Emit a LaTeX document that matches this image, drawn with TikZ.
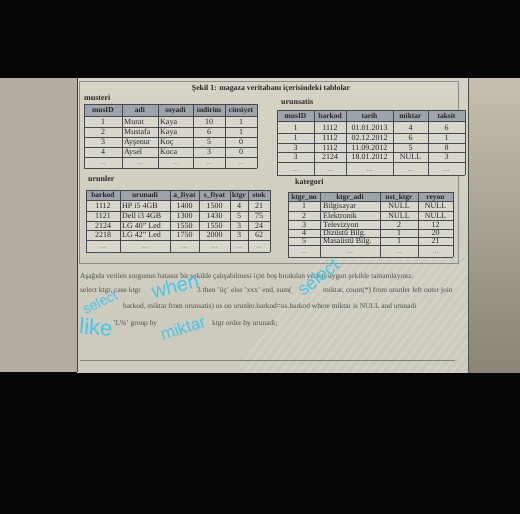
\documentclass[tikz,border=0pt]{standalone}
\usepackage{fontspec}
\setmainfont{Liberation Serif}
\newfontfamily\handfont{Liberation Sans}
\definecolor{bezL}{HTML}{B3ADA1}
\definecolor{pageT}{HTML}{D6D3C5}
\definecolor{pageB}{HTML}{CBCABC}
\definecolor{bezRT}{HTML}{C6BFAD}
\definecolor{bezRB}{HTML}{8A8477}
\definecolor{hdrc}{HTML}{9DA4AC}
\definecolor{cellc}{HTML}{D9D7CC}
\definecolor{gridc}{HTML}{45484C}
\definecolor{txtc}{HTML}{262626}
\definecolor{paratxt}{HTML}{4E4E4A}
\definecolor{handc}{HTML}{44C6EE}
\tikzset{
  cellfont/.style={font=\fontsize{8}{9}\selectfont, text=txtc, inner sep=0pt, text height=5.5pt, text depth=0pt},
  cc/.style={cellfont, anchor=center},
  cl/.style={cellfont, anchor=west},
  hd/.style={cellfont, anchor=center, font=\fontsize{7.5}{9}\selectfont\bfseries},
  tlabel/.style={anchor=west, inner sep=0pt, font=\fontsize{8}{9}\selectfont\bfseries, text=txtc},
  gridln/.style={draw=gridc, line width=0.7pt},
  hdrfill/.style={fill=hdrc},
  cellfill/.style={fill=cellc},
  para/.style={anchor=base west, inner sep=0pt, font=\fontsize{7.4}{9}\selectfont, text=paratxt},
  hand/.style={inner sep=0pt, font=\handfont, text=handc},
}
\newcommand\mrow[7]{%
  \node[cc] (#2-1) at (103,#1) {#3};
  \node[cl] (#2-2) at (124,#1) {#4};
  \node[cl] (#2-3) at (160,#1) {#5};
  \node[cc] (#2-4) at (209,#1) {#6};
  \node[cc] (#2-5) at (241,#1) {#7};}
\newcommand\srow[7]{%
  \node[cc] (#2-1) at (295.5,#1) {#3};
  \node[cc] (#2-2) at (330,#1) {#4};
  \node[cc] (#2-3) at (369.5,#1) {#5};
  \node[cc] (#2-4) at (410.5,#1) {#6};
  \node[cc] (#2-5) at (446.5,#1) {#7};}
\newcommand\urow[8]{%
  \node[cc] (#2-1) at (103,#1) {#3};
  \node[cl] (#2-2) at (122,#1) {#4};
  \node[cc] (#2-3) at (184.5,#1) {#5};
  \node[cc] (#2-4) at (214.5,#1) {#6};
  \node[cc] (#2-5) at (239,#1) {#7};
  \node[cc] (#2-6) at (259,#1) {#8};}
\newcommand\krow[6]{%
  \node[cc] (#2-1) at (304,#1) {#3};
  \node[cl] (#2-2) at (323,#1) {#4};
  \node[cc] (#2-3) at (399,#1) {#5};
  \node[cc] (#2-4) at (435.5,#1) {#6};}
\begin{document}
\begin{tikzpicture}[x=1pt,y=-1pt]
\useasboundingbox (0,0) rectangle (520,514);
% photo background
\fill[black!98] (0,0) rectangle (520,514);
\fill[bezL] (0,78) rectangle (77,372);
\shade[top color=pageT, bottom color=pageB] (77,78) rectangle (468,372);
\shade[top color=bezRT, bottom color=bezRB] (468,78) rectangle (520,372);
\begin{scope}
  \clip (240,255) rectangle (468,372);
  \foreach \k in {0,9,...,300}
    \draw[white, opacity=0.13, line width=2.5pt] (230+\k,380) -- (330+\k,250);
\end{scope}
\draw[black!75, line width=0.9pt] (77,78) -- (77,372);
\draw[black!70, line width=0.9pt] (468,78) -- (468,372);
% figure frame and bottom rule
\draw[black!45, line width=0.5pt] (79,81) rectangle (458,263);
\draw[black!50, line width=0.5pt] (80,360) -- (455,360);
% title
\node[inner sep=0pt, font=\fontsize{7.8}{9}\selectfont\bfseries, text=txtc] (title) at (271,89) {Şekil 1: magaza veritabanı içerisindeki tablolar};
% ---------------- musteri
\node[tlabel] (lmusteri) at (84,98) {musteri};
\fill[hdrfill] (84,104) rectangle (257,116);
\fill[cellfill] (84,116) rectangle (257,168);
\foreach \x in {84,122,158,193,225,257} \draw[gridln] (\x,104) -- (\x,168);
\foreach \y in {104,116,127,137,147,157,168} \draw[gridln] (84,\y) -- (257,\y);
\node[hd] (mh1) at (103,110) {musID};
\node[hd] (mh2) at (140,110) {adi};
\node[hd] (mh3) at (175.5,110) {soyadi};
\node[hd] (mh4) at (209,110) {indirim};
\node[hd] (mh5) at (241,110) {cinsiyet};
\mrow{121.5}{m1}{1}{Murat}{Kaya}{10}{1}
\mrow{132}{m2}{2}{Mustafa}{Kaya}{6}{1}
\mrow{142}{m3}{3}{Ayşenur}{Koç}{5}{0}
\mrow{152}{m4}{4}{Aysel}{Koca}{3}{0}
\node[cc,text=txtc!60] (m5-1) at (103,162) {...};
\node[cc,text=txtc!60] (m5-2) at (140,162) {...};
\node[cc,text=txtc!60] (m5-3) at (175.5,162) {...};
\node[cc,text=txtc!60] (m5-4) at (209,162) {...};
\node[cc,text=txtc!60] (m5-5) at (241,162) {...};
% ---------------- urunsatis
\node[tlabel] (lsatis) at (281,102) {urunsatis};
\fill[hdrfill] (277,110) rectangle (465,121);
\fill[cellfill] (277,121) rectangle (465,175);
\foreach \x in {277,314,346,393,428,465} \draw[gridln] (\x,110) -- (\x,175);
\foreach \y in {110,121,133,143,152,162,175} \draw[gridln] (277,\y) -- (465,\y);
\node[hd] (sh1) at (295.5,115.5) {musID};
\node[hd] (sh2) at (330,115.5) {barkod};
\node[hd] (sh3) at (369.5,115.5) {tarih};
\node[hd] (sh4) at (410.5,115.5) {miktar};
\node[hd] (sh5) at (446.5,115.5) {taksit};
\srow{127.5}{s1}{1}{1112}{01.01.2013}{4}{6}
\srow{138}{s2}{1}{1112}{02.12.2012}{6}{1}
\srow{147.5}{s3}{3}{1112}{11.09.2012}{5}{8}
\srow{157}{s4}{3}{2124}{18.01.2012}{NULL}{3}
\node[cc,text=txtc!60] (s5-1) at (295.5,168.5) {...};
\node[cc,text=txtc!60] (s5-2) at (330,168.5) {...};
\node[cc,text=txtc!60] (s5-3) at (369.5,168.5) {...};
\node[cc,text=txtc!60] (s5-4) at (410.5,168.5) {...};
\node[cc,text=txtc!60] (s5-5) at (446.5,168.5) {...};
% ---------------- urunler
\node[tlabel] (lurunler) at (88,179) {urunler};
\fill[hdrfill] (86,190) rectangle (270,200);
\fill[cellfill] (86,200) rectangle (270,252);
\foreach \x in {86,120,170,199,230,248,270} \draw[gridln] (\x,190) -- (\x,252);
\foreach \y in {190,200,211,221,230,240,252} \draw[gridln] (86,\y) -- (270,\y);
\node[hd] (uh1) at (103,195) {barkod};
\node[hd] (uh2) at (145,195) {urunadi};
\node[hd] (uh3) at (184.5,195) {a\_fiyat};
\node[hd] (uh4) at (214.5,195) {s\_fiyat};
\node[hd] (uh5) at (239,195) {ktgr};
\node[hd] (uh6) at (259,195) {stok};
\urow{205.5}{u1}{1112}{HP i5 4GB}{1400}{1500}{4}{21}
\urow{216}{u2}{1121}{Dell i3 4GB}{1300}{1430}{5}{75}
\urow{225.5}{u3}{2124}{LG 40" Led}{1550}{1550}{3}{24}
\urow{235}{u4}{2218}{LG 42" Led}{1750}{2000}{3}{62}
\node[cc,text=txtc!60] (u5-1) at (103,246) {...};
\node[cc,text=txtc!60] (u5-2) at (145,246) {...};
\node[cc,text=txtc!60] (u5-3) at (184.5,246) {...};
\node[cc,text=txtc!60] (u5-4) at (214.5,246) {...};
\node[cc,text=txtc!60] (u5-5) at (239,246) {...};
\node[cc,text=txtc!60] (u5-6) at (259,246) {...};
% ---------------- kategori
\node[tlabel] (lkat) at (295,183) {kategori};
\fill[hdrfill] (288,192) rectangle (453,201);
\fill[cellfill] (288,201) rectangle (453,257);
\foreach \x in {288,320,380,418,453} \draw[gridln] (\x,192) -- (\x,257);
\foreach \y in {192,201,211,220,229,237,245,257} \draw[gridln] (288,\y) -- (453,\y);
\node[hd] (kh1) at (304,196.5) {ktgr\_no};
\node[hd] (kh2) at (350,196.5) {ktgr\_adi};
\node[hd] (kh3) at (399,196.5) {ust\_ktgr};
\node[hd] (kh4) at (435.5,196.5) {reyon};
\krow{206}{k1}{1}{Bilgisayar}{NULL}{NULL}
\krow{215.5}{k2}{2}{Elektronik}{NULL}{NULL}
\krow{224.5}{k3}{3}{Televizyon}{2}{12}
\krow{233}{k4}{4}{Dizüstü Bilg.}{1}{20}
\krow{241}{k5}{5}{Masaüstü Bilg.}{1}{21}
\node[cc,text=txtc!60] (k6-1) at (304,251) {...};
\node[cc,text=txtc!60] (k6-2) at (350,251) {...};
\node[cc,text=txtc!60] (k6-3) at (399,251) {...};
\node[cc,text=txtc!60] (k6-4) at (435.5,251) {...};
% ---------------- question text
\node[para] (p1) at (80,278) {Aşağıda verilen sorgunun hatasız bir şekilde çalışabilmesi için boş bırakılan yerleri uygun şekilde tamamlayınız.};
\node[para] (p2a) at (80,292) {select ktgr, case ktgr};
\node[para] (p2b) at (197,292) {3 then 'üç' else 'xxx' end, sum(};
\node[para] (p2c) at (323,292) {miktar, count(*) from urunler left outer join};
\node[para] (p3) at (123,308) {barkod, miktar from urunsatis) us on urunler.barkod=us.barkod where miktar is NULL and urunadi};
\node[para] (p4a) at (113,325) {'L\%' group by};
\node[para] (p4b) at (212,325) {ktgr order by urunadi;};
% ---------------- handwritten overlay
\node[hand, font=\handfont\fontsize{14}{14}\selectfont, rotate=25] (w1) at (100,302) {select};
\node[hand, font=\handfont\fontsize{20}{20}\selectfont, rotate=14] (w2) at (175,286) {when};
\node[hand, font=\handfont\fontsize{18}{18}\selectfont, rotate=38] (w3) at (318,277) {select};
\node[hand, font=\handfont\fontsize{22}{22}\selectfont, rotate=-4] (w4) at (96,327) {like};
\node[hand, font=\handfont\fontsize{17}{17}\selectfont, rotate=18] (w5) at (183,328) {miktar};
\end{tikzpicture}
\end{document}
